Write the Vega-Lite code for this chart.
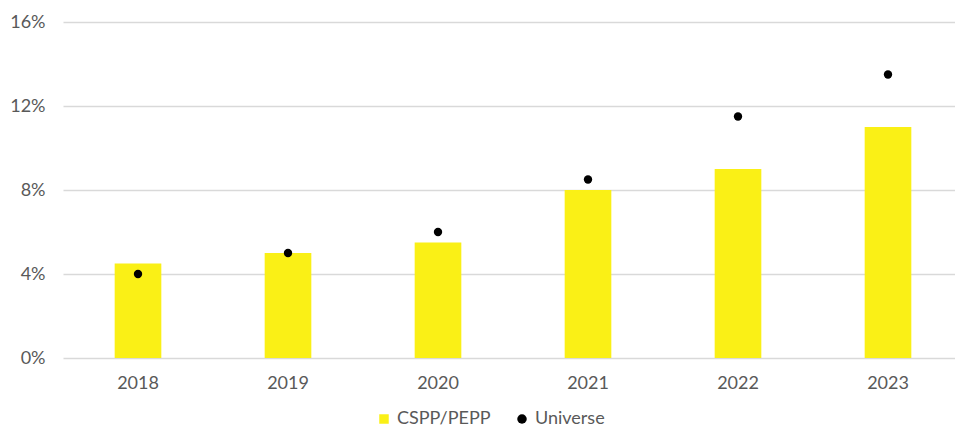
{
  "$schema": "https://vega.github.io/schema/vega-lite/v6.json",
  "width": 900,
  "height": 336,
  "autosize": {"type": "none"},
  "padding": {"left": 63, "top": 22, "right": 0, "bottom": 69},
  "background": "white",
  "config": {
    "view": {"stroke": null},
    "font": "Lato",
    "axis": {"labelFont": "Lato", "labelColor": "#595959", "labelFontSize": 18, "domain": false, "ticks": false, "title": null},
    "legend": {"labelFont": "Lato", "labelColor": "#595959", "labelFontSize": 18}
  },
  "data": {
    "values": [
      {"year": "2018", "series": "CSPP/PEPP", "value": 0.045},
      {"year": "2019", "series": "CSPP/PEPP", "value": 0.05},
      {"year": "2020", "series": "CSPP/PEPP", "value": 0.055},
      {"year": "2021", "series": "CSPP/PEPP", "value": 0.08},
      {"year": "2022", "series": "CSPP/PEPP", "value": 0.09},
      {"year": "2023", "series": "CSPP/PEPP", "value": 0.11},
      {"year": "2018", "series": "Universe", "value": 0.04},
      {"year": "2019", "series": "Universe", "value": 0.05},
      {"year": "2020", "series": "Universe", "value": 0.06},
      {"year": "2021", "series": "Universe", "value": 0.085},
      {"year": "2022", "series": "Universe", "value": 0.115},
      {"year": "2023", "series": "Universe", "value": 0.135}
    ]
  },
  "encoding": {
    "x": {"field": "year", "type": "nominal", "scale": {"paddingInner": 0.689, "paddingOuter": 0.3445},
      "axis": {"labelAngle": 0, "labelPadding": 16, "grid": false}},
    "y": {"field": "value", "type": "quantitative", "scale": {"domain": [0, 0.16], "nice": false},
      "axis": {"values": [0, 0.04, 0.08, 0.12, 0.16], "format": ".0%", "labelPadding": 18, "gridColor": "#d9d9d9", "gridWidth": 1.3}},
    "color": {"field": "series", "type": "nominal", "scale": {"domain": ["CSPP/PEPP", "Universe"], "range": ["#FAF016", "#000000"]},
      "legend": {"title": null, "orient": "none", "legendX": 312, "legendY": 388, "direction": "horizontal", "symbolSize": 90, "columnPadding": 22, "labelOffset": 4, "symbolOpacity": 1}},
    "shape": {"field": "series", "type": "nominal", "scale": {"domain": ["CSPP/PEPP", "Universe"], "range": ["square", "circle"]},
      "legend": {"title": null, "orient": "none", "legendX": 312, "legendY": 388, "direction": "horizontal", "symbolSize": 90, "columnPadding": 22, "labelOffset": 4, "symbolOpacity": 1}}
  },
  "layer": [
    {"transform": [{"filter": "datum.series === 'CSPP/PEPP'"}], "mark": {"type": "bar", "opacity": 1}},
    {"transform": [{"filter": "datum.series === 'Universe'"}], "mark": {"type": "point", "filled": true, "size": 70, "opacity": 1}}
  ]
}
